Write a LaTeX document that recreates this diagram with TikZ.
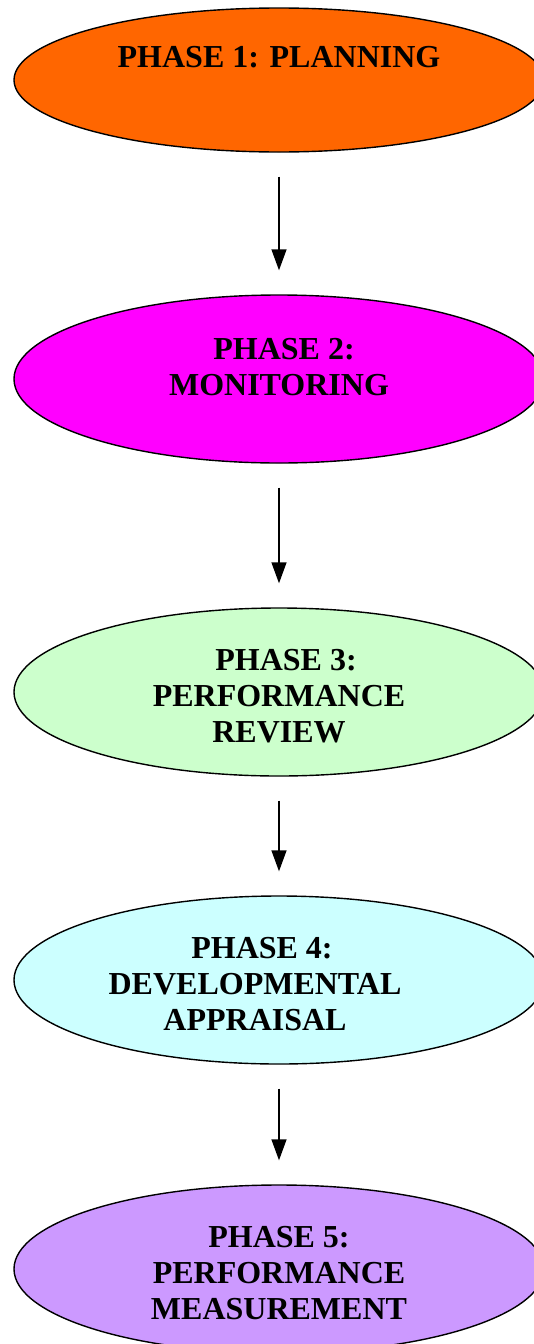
\documentclass[tikz,border=0pt]{standalone}
\usepackage{fontspec}
\setmainfont{Liberation Serif}
\usetikzlibrary{shapes.geometric,arrows.meta}
\begin{document}
\begin{tikzpicture}[x=1pt,y=-1pt,
  phase/.style={ellipse,draw=black,line width=1.4pt,inner sep=0pt,
    minimum width=530pt},
  phasetext/.style={align=center,inner sep=0pt,
    font=\fontsize{32}{36}\selectfont\bfseries},
  flow/.style={line width=1.4pt,-{Triangle[length=21pt,width=15pt]},
    shorten <=24pt,shorten >=24pt}]
\useasboundingbox (0,0) rectangle (534,1344);
\fill[white] (0,0) rectangle (534,1344);

% phase ellipses
\node[phase,fill={rgb,255:red,255;green,102;blue,0},minimum height=144pt] (p1) at (279,80) {};
\node[phase,fill={rgb,255:red,255;green,0;blue,255},minimum height=168pt] (p2) at (279,379) {};
\node[phase,fill={rgb,255:red,204;green,255;blue,204},minimum height=168pt] (p3) at (279,692) {};
\node[phase,fill={rgb,255:red,204;green,255;blue,255},minimum height=168pt] (p4) at (279,980) {};
\node[phase,fill={rgb,255:red,204;green,153;blue,255},minimum height=168pt] (p5) at (279,1269) {};

% phase titles
\node[phasetext] (t1) at (279,57) {PHASE 1: PLANNING};
\node[phasetext] (t2) at (279,367) {\hspace*{10pt}PHASE 2:\\MONITORING};
\node[phasetext] (t3) at (279,696) {\hspace*{14pt}PHASE 3:\\PERFORMANCE\\REVIEW};
\node[phasetext] (t4) at (255,984) {\hspace*{14pt}PHASE 4:\\DEVELOPMENTAL\\APPRAISAL};
\node[phasetext] (t5) at (279,1273) {PHASE 5:\\PERFORMANCE\\MEASUREMENT};

% arrows between phases
\draw[flow] (p1.south) -- (p2.north);
\draw[flow] (p2.south) -- (p3.north);
\draw[flow] (p3.south) -- (p4.north);
\draw[flow] (p4.south) -- (p5.north);
\end{tikzpicture}
\end{document}
